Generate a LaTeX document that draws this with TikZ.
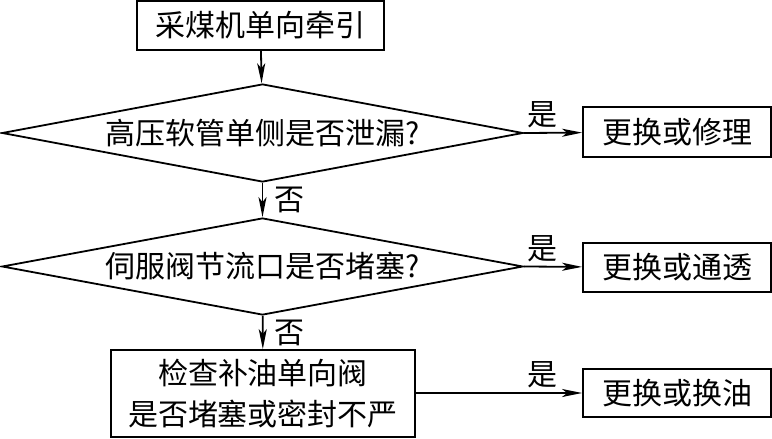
\documentclass[tikz,border=0pt]{standalone}
\usepackage{fontspec}
\setmainfont{Noto Sans CJK SC}
\usetikzlibrary{shapes.geometric,arrows.meta}
\tikzset{
  every node/.style={font=\fontsize{30}{41}\selectfont},
  box/.style={draw,line width=1.8pt,rectangle,inner sep=0pt},
  decision/.style={draw,line width=1.8pt,diamond,aspect=5.3,inner sep=0pt,minimum width=521pt,minimum height=98pt},
  flow/.style={line width=1.8pt,-{Stealth[length=20pt,width=8pt,inset=5pt]}}
}

\begin{document}
\begin{tikzpicture}[x=1pt,y=-1pt]
    \useasboundingbox (0,0) rectangle (772,439);
    % main column
    \node[box,minimum width=247pt,minimum height=49pt] (start) at (260.5,25.5) {采煤机单向牵引};
    \node[decision] (hose) at (262.5,133) {高压软管单侧是否泄漏?};
    \node[decision,minimum height=97pt] (servo) at (262.5,266.5) {伺服阀节流口是否堵塞?};
    \node[box,minimum width=304pt,minimum height=87pt,align=center] (check) at (263,393.5) {检查补油单向阀\\是否堵塞或密封不严};
    % right column
    \node[box,minimum width=188pt,minimum height=50pt] (repair) at (677,132) {更换或修理};
    \node[box,minimum width=188pt,minimum height=49pt] (clear) at (677,267.5) {更换或通透};
    \node[box,minimum width=188pt,minimum height=48pt] (oil) at (677,393) {更换或换油};
    % arrows down
    \draw[flow] (start) -- (hose);
    \draw[flow] (hose) -- node[right=8pt] (no1) {否} (servo);
    \draw[flow] (servo) -- node[right=8pt] (no2) {否} (check);
    % arrows right
    \draw[flow] (hose.east) -- node[above=1pt,xshift=-11pt] (yes1) {是} (repair);
    \draw[flow] (servo.east) -- node[above=1pt,xshift=-11pt] (yes2) {是} (clear);
    \draw[flow] (check.east |- oil) -- node[above=1pt,pos=0.76] (yes3) {是} (oil);
\end{tikzpicture}
\end{document}
